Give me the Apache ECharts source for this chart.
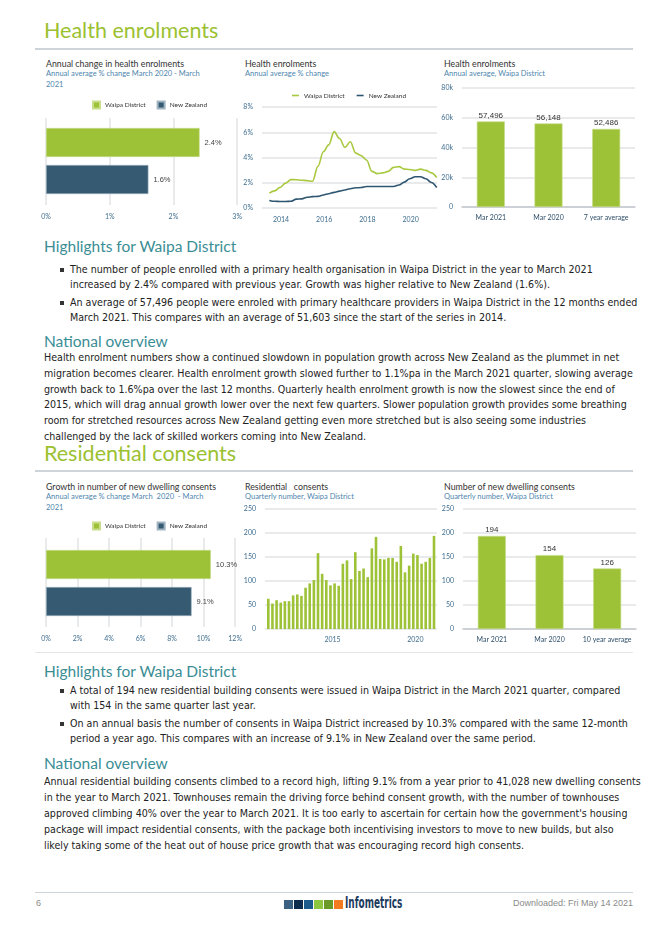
<!DOCTYPE html>
<html><head><meta charset="utf-8">
<script src="https://cdn.jsdelivr.net/npm/echarts@6/dist/echarts.min.js"></script>
<style>
html,body{margin:0;padding:0;background:#fff;}
#page{position:relative;width:668px;height:930px;overflow:hidden;background:#fff;}
.abs{position:absolute;white-space:nowrap;}
.h1{font-family:Lato,"Open Sans",sans-serif;font-size:21.5px;line-height:20px;color:#9bc131;}
.rule{position:absolute;left:35px;width:598px;height:2px;background:#cfd4d8;}
.ptitle{font-family:Lato,sans-serif;font-size:8.8px;line-height:11px;color:#333;}
.psub{font-family:Lato,sans-serif;font-size:7.5px;line-height:10.5px;color:#4e86ae;}
.h2{font-family:Lato,sans-serif;font-size:15.5px;line-height:18px;color:#3b8d95;}
.body{font-family:"DejaVu Sans Condensed","DejaVu Sans",sans-serif;font-stretch:condensed;font-size:10.6px;color:#222;}
.bul{position:absolute;width:4px;height:4px;background:#333;}
.chart{position:absolute;}
.foot{font-family:"Liberation Sans",Arial,sans-serif;font-size:9px;color:#8a8a8a;}
.sq{position:absolute;width:9px;height:9px;}
</style></head>
<body><div id="page">

<div class="abs h1" style="left:44px;top:20px;">Health enrolments</div>
<div class="rule" style="top:48px;"></div>

<div class="abs ptitle" style="left:46px;top:58px;">Annual change in health enrolments</div>
<div class="abs psub" style="left:46px;top:69px;">Annual average % change March 2020 - March<br>2021</div>
<div class="abs ptitle" style="left:245px;top:58px;">Health enrolments</div>
<div class="abs psub" style="left:245px;top:69px;">Annual average % change</div>
<div class="abs ptitle" style="left:444px;top:58px;">Health enrolments</div>
<div class="abs psub" style="left:444px;top:69px;">Annual average, Waipa District</div>

<div id="c1" class="chart" style="left:30px;top:90px;width:215px;height:140px;"></div>
<div id="c2" class="chart" style="left:235px;top:85px;width:210px;height:145px;"></div>
<div id="c3" class="chart" style="left:435px;top:80px;width:210px;height:150px;"></div>

<div class="abs h2" style="left:44px;top:237px;">Highlights for Waipa District</div>
<div class="bul" style="left:60px;top:268px;"></div>
<div class="abs body" style="left:70px;top:262px;line-height:15px;">The number of people enrolled with a primary health organisation in Waipa District in the year to March 2021<br>increased by 2.4% compared with previous year. Growth was higher relative to New Zealand (1.6%).</div>
<div class="bul" style="left:60px;top:301px;"></div>
<div class="abs body" style="left:70px;top:295px;line-height:15px;">An average of 57,496 people were enroled with primary healthcare providers in Waipa District in the 12 months ended<br>March 2021. This compares with an average of 51,603 since the start of the series in 2014.</div>
<div class="abs h2" style="left:44px;top:332px;">National overview</div>
<div class="abs body" style="left:44px;top:350px;line-height:15.8px;">Health enrolment numbers show a continued slowdown in population growth across New Zealand as the plummet in net<br>migration becomes clearer. Health enrolment growth slowed further to 1.1%pa in the March 2021 quarter, slowing average<br>growth back to 1.6%pa over the last 12 months. Quarterly health enrolment growth is now the slowest since the end of<br>2015, which will drag annual growth lower over the next few quarters. Slower population growth provides some breathing<br>room for stretched resources across New Zealand getting even more stretched but is also seeing some industries<br>challenged by the lack of skilled workers coming into New Zealand.</div>

<div class="abs h1" style="left:44px;top:443px;">Residential consents</div>
<div class="rule" style="top:470px;"></div>

<div class="abs ptitle" style="left:46px;top:481px;">Growth in number of new dwelling consents</div>
<div class="abs psub" style="left:46px;top:492px;">Annual average % change March&nbsp; 2020&nbsp; - March<br>2021</div>
<div class="abs ptitle" style="left:245px;top:481px;">Residential&nbsp;&nbsp; consents</div>
<div class="abs psub" style="left:245px;top:492px;">Quarterly number, Waipa District</div>
<div class="abs ptitle" style="left:444px;top:481px;">Number of new dwelling consents</div>
<div class="abs psub" style="left:444px;top:492px;">Quarterly number, Waipa District</div>

<div id="c4" class="chart" style="left:30px;top:511px;width:215px;height:140px;"></div>
<div id="c5" class="chart" style="left:235px;top:500px;width:210px;height:150px;"></div>
<div id="c6" class="chart" style="left:435px;top:500px;width:210px;height:150px;"></div>

<div class="rule" style="top:652px;height:1px;background:#e3e6e8;"></div>

<div class="abs h2" style="left:44px;top:662px;">Highlights for Waipa District</div>
<div class="bul" style="left:60px;top:689px;"></div>
<div class="abs body" style="left:70px;top:683px;line-height:15px;">A total of 194 new residential building consents were issued in Waipa District in the March 2021 quarter, compared<br>with 154 in the same quarter last year.</div>
<div class="bul" style="left:60px;top:722px;"></div>
<div class="abs body" style="left:70px;top:716px;line-height:15px;">On an annual basis the number of consents in Waipa District increased by 10.3% compared with the same 12-month<br>period a year ago. This compares with an increase of 9.1% in New Zealand over the same period.</div>
<div class="abs h2" style="left:44px;top:754px;">National overview</div>
<div class="abs body" style="left:44px;top:773px;line-height:16px;">Annual residential building consents climbed to a record high, lifting 9.1% from a year prior to 41,028 new dwelling consents<br>in the year to March 2021. Townhouses remain the driving force behind consent growth, with the number of townhouses<br>approved climbing 40% over the year to March 2021. It is too early to ascertain for certain how the government's housing<br>package will impact residential consents, with the package both incentivising investors to move to new builds, but also<br>likely taking some of the heat out of house price growth that was encouraging record high consents.</div>

<div class="rule" style="top:892px;height:1px;background:#cfd4d8;"></div>
<div class="abs foot" style="left:36px;top:898px;">6</div>
<div class="abs foot" style="right:35px;top:898px;">Downloaded: Fri May 14 2021</div>
<div class="sq" style="left:284px;top:900px;background:#3d6182;"></div>
<div class="sq" style="left:294px;top:900px;background:#0e2d4e;"></div>
<div class="sq" style="left:304px;top:900px;background:#1d5b8c;"></div>
<div class="sq" style="left:314px;top:900px;background:#8dc63f;"></div>
<div class="sq" style="left:324px;top:900px;background:#6a9a28;"></div>
<div class="sq" style="left:334px;top:900px;background:#f47b20;"></div>
<div class="abs" style="left:345px;top:894px;font-family:'DejaVu Sans Condensed','DejaVu Sans',sans-serif;font-weight:bold;font-size:16px;line-height:18px;color:#1b3a5c;transform:scaleX(0.62);transform-origin:0 0;">Infometrics</div>

</div>
<script>
// ---------- data ----------
const regionNames = ['Waipa District', 'New Zealand'];
const enrolChangeValues = [2.4, 1.6];

const healthQuarters = ['Jun 2013','Sep 2013','Dec 2013','Mar 2014','Jun 2014','Sep 2014','Dec 2014','Mar 2015',
  'Jun 2015','Sep 2015','Dec 2015','Mar 2016','Jun 2016','Sep 2016','Dec 2016','Mar 2017',
  'Jun 2017','Sep 2017','Dec 2017','Mar 2018','Jun 2018','Sep 2018','Dec 2018','Mar 2019',
  'Jun 2019','Sep 2019','Dec 2019','Mar 2020','Jun 2020','Sep 2020','Dec 2020','Mar 2021'];
const waipaEnrolGrowth = [1.18,1.36,1.63,1.97,2.25,2.24,2.2,2.17,
  2.12,3.3,4.45,5.0,6.05,5.5,4.8,5.25,
  4.35,4.15,3.8,2.9,2.72,2.78,2.9,3.22,
  3.28,3.08,3.05,2.98,3.08,2.98,2.78,2.42];
const nzEnrolGrowth = [0.6,0.53,0.52,0.52,0.53,0.7,0.72,0.85,
  0.9,0.92,1.03,1.13,1.24,1.34,1.43,1.53,
  1.6,1.62,1.7,1.7,1.7,1.7,1.7,1.7,
  1.82,2.05,2.32,2.48,2.48,2.32,2.02,1.62];
const healthYearTicks = [2014, 2016, 2018, 2020];

const enrolAvgCats = ['Mar 2021', 'Mar 2020', '7 year average'];
const enrolAvgValues = [57496, 56148, 52486];

const consentChangeValues = [10.3, 9.1];

const consentQuarters = ['Mar 2011','Jun 2011','Sep 2011','Dec 2011','Mar 2012','Jun 2012','Sep 2012','Dec 2012',
  'Mar 2013','Jun 2013','Sep 2013','Dec 2013','Mar 2014','Jun 2014','Sep 2014','Dec 2014',
  'Mar 2015','Jun 2015','Sep 2015','Dec 2015','Mar 2016','Jun 2016','Sep 2016','Dec 2016',
  'Mar 2017','Jun 2017','Sep 2017','Dec 2017','Mar 2018','Jun 2018','Sep 2018','Dec 2018',
  'Mar 2019','Jun 2019','Sep 2019','Dec 2019','Mar 2020','Jun 2020','Sep 2020','Dec 2020','Mar 2021'];
const consentValues = [63,53,60,55,58,58,70,72,
  69,86,95,102,158,115,102,91,
  95,90,136,143,104,160,121,126,
  108,168,192,146,145,148,148,140,
  173,118,132,157,154,136,140,148,194];
const consentYearTicks = [2015, 2020];

const consentAvgCats = ['Mar 2021', 'Mar 2020', '10 year average'];
const consentAvgValues = [194, 154, 126];

// ---------- styles ----------
const GREEN = '#9dc237';
const BLUE = '#355a72';
const LGREEN = '#a9c941';
const LBLUE = '#2f5671';
const AXIS_TXT = '#3f6e8f';
const GRID = '#e0e3e6';
const FONT = 'Lato';
const monthNum = {Mar: 3, Jun: 6, Sep: 9, Dec: 12};
function qPos(label, off) { const p = label.split(' '); return +p[1] + (monthNum[p[0]] - off) / 12; }

function hbar(el, values, max, interval, gTop, gH, bTop) {
  const c = echarts.init(document.getElementById(el), null, {renderer: 'canvas'});
  const lbl = {show: true, position: 'right', distance: 5, fontSize: 7.5, color: '#444',
    fontFamily: 'Liberation Sans', formatter: p => p.value.toFixed(1) + '%'};
  c.setOption({
    animation: false,
    textStyle: {fontFamily: FONT},
    legend: {data: regionNames, left: 62, top: 10.5, itemWidth: 7, itemHeight: 7, itemGap: 11, icon: 'rect',
      padding: 0, textStyle: {fontSize: 6.5, color: '#333', fontFamily: FONT}},
    grid: [{left: 16, top: gTop, width: 192, height: gH}, {left: 16, top: bTop, width: 192, height: 74}],
    xAxis: [
      {gridIndex: 0, type: 'value', min: 0, max: max, interval: interval,
        axisLine: {show: false}, axisTick: {show: false},
        splitLine: {show: true, lineStyle: {color: GRID, width: 1.5}},
        axisLabel: {formatter: '{value}%', fontSize: 7, color: AXIS_TXT, margin: 8, fontFamily: FONT}},
      {gridIndex: 1, type: 'value', min: 0, max: max, show: false}
    ],
    yAxis: [
      {gridIndex: 0, type: 'category', data: ['x'], show: false},
      {gridIndex: 1, type: 'category', data: regionNames, inverse: true, show: false}
    ],
    series: [
      {name: regionNames[0], type: 'bar', xAxisIndex: 1, yAxisIndex: 1, barWidth: 29, barGap: '-100%',
        data: [values[0], '-'], itemStyle: {color: GREEN, borderColor: '#c8de8a', borderWidth: 0.6}, label: lbl},
      {name: regionNames[1], type: 'bar', xAxisIndex: 1, yAxisIndex: 1, barWidth: 29, barGap: '-100%',
        data: ['-', values[1]], itemStyle: {color: BLUE, borderColor: '#9fb3c0', borderWidth: 0.6}, label: lbl}
    ]
  });
}

function vbar(el, cats, values, max, interval, fmt, gLeft, gTop, gH) {
  const c = echarts.init(document.getElementById(el), null, {renderer: 'canvas'});
  c.setOption({
    animation: false,
    textStyle: {fontFamily: FONT},
    grid: {left: gLeft, top: gTop, width: 173, height: gH},
    xAxis: {type: 'category', data: cats, axisTick: {show: false},
      axisLine: {show: true, lineStyle: {color: '#c3c8cc', width: 1.5}},
      axisLabel: {interval: 0, fontSize: 7, color: '#2f4f6a', margin: 7, fontFamily: FONT}},
    yAxis: {type: 'value', min: 0, max: max, interval: interval,
      axisLine: {show: false}, axisTick: {show: false},
      splitLine: {lineStyle: {color: GRID, width: 1.5}},
      axisLabel: {formatter: fmt, fontSize: 7, color: AXIS_TXT, margin: 9, fontFamily: FONT}},
    series: [{type: 'bar', data: values, barWidth: 28,
      itemStyle: {color: GREEN, borderColor: '#c8de8a', borderWidth: 0.6},
      label: {show: true, position: 'top', distance: 2, fontSize: 8, color: '#333', fontFamily: 'Liberation Sans',
        formatter: p => p.value.toLocaleString('en-US')}}]
  });
}

// Chart 1: annual change in health enrolments
hbar('c1', enrolChangeValues, 3, 1, 28, 87, 34);

// Chart 2: health enrolments line
(function () {
  const c = echarts.init(document.getElementById('c2'), null, {renderer: 'canvas'});
  c.setOption({
    animation: false,
    textStyle: {fontFamily: FONT},
    legend: {data: regionNames, left: 57, top: 7, itemWidth: 7, itemHeight: 1.6, itemGap: 12, icon: 'rect',
      padding: 0, textStyle: {fontSize: 6.5, color: '#333', fontFamily: FONT}},
    grid: {left: 27, top: 22, width: 175, height: 101},
    xAxis: {type: 'value', min: 2013.12, max: 2021.22,
      splitLine: {show: false}, axisLine: {show: false}, axisTick: {show: false},
      axisLabel: {customValues: healthYearTicks, formatter: v => String(v), fontSize: 7, color: AXIS_TXT,
        margin: 8, fontFamily: FONT}},
    yAxis: {type: 'value', min: 0, max: 8, interval: 2,
      axisLine: {show: false}, axisTick: {show: false},
      splitLine: {lineStyle: {color: GRID, width: 1.5}},
      axisLabel: {formatter: '{value}%', fontSize: 7, color: AXIS_TXT, margin: 9, fontFamily: FONT}},
    series: [
      {name: regionNames[0], type: 'line', showSymbol: false, smooth: 0.35, smoothMonotone: 'x',
        color: LGREEN, lineStyle: {width: 1.6, color: LGREEN},
        data: healthQuarters.map((q, i) => [qPos(q, 0.5), waipaEnrolGrowth[i]])},
      {name: regionNames[1], type: 'line', showSymbol: false, smooth: 0.35, smoothMonotone: 'x',
        color: LBLUE, lineStyle: {width: 1.6, color: LBLUE},
        data: healthQuarters.map((q, i) => [qPos(q, 0.5), nzEnrolGrowth[i]])}
    ]
  });
})();

// Chart 3: health enrolments annual average
vbar('c3', enrolAvgCats, enrolAvgValues, 80000, 20000, v => v === 0 ? '0' : (v / 1000) + 'k', 27, 8, 119);

// Chart 4: growth in dwelling consents
hbar('c4', consentChangeValues, 12, 2, 27, 89, 35);

// Chart 5: residential consents quarterly
(function () {
  const c = echarts.init(document.getElementById('c5'), null, {renderer: 'canvas'});
  c.setOption({
    animation: false,
    textStyle: {fontFamily: FONT},
    grid: {left: 30, top: 9, width: 172, height: 120},
    xAxis: {type: 'value', min: 2010.926, max: 2021.306,
      splitLine: {show: false}, axisLine: {show: false}, axisTick: {show: false},
      axisLabel: {customValues: consentYearTicks, formatter: v => String(v), fontSize: 7, color: AXIS_TXT,
        margin: 7, fontFamily: FONT}},
    yAxis: {type: 'value', min: 0, max: 250, interval: 50,
      axisLine: {show: false}, axisTick: {show: false},
      splitLine: {lineStyle: {color: GRID, width: 1.5}},
      axisLabel: {fontSize: 7, color: AXIS_TXT, margin: 9, fontFamily: FONT}},
    series: [{type: 'bar', barWidth: 2.6, itemStyle: {color: GREEN},
      data: consentQuarters.map((q, i) => [qPos(q, 1.5), consentValues[i]])}]
  });
})();

// Chart 6: number of new dwelling consents
vbar('c6', consentAvgCats, consentAvgValues, 250, 50, '{value}', 28, 9, 120);
</script>
</body></html>
